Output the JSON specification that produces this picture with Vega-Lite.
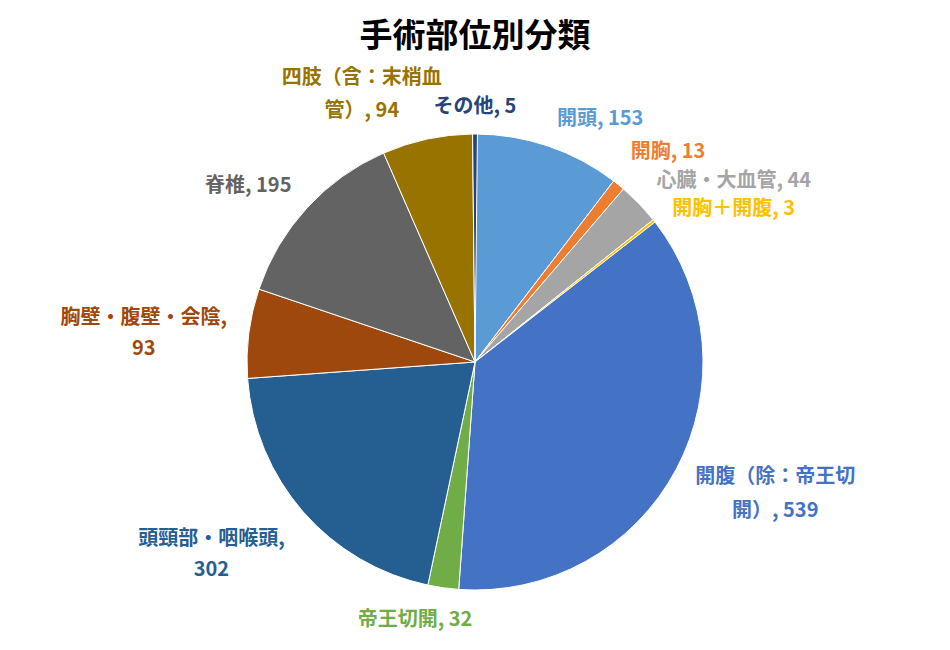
{
  "$schema": "https://vega.github.io/schema/vega-lite/v6.json",
  "width": 950,
  "height": 650,
  "autosize": {"type": "fit", "contains": "padding"},
  "padding": {"top": 27, "left": 0, "right": 0, "bottom": 0},
  "background": "white",
  "config": {"view": {"stroke": null}, "font": "Noto Sans CJK JP"},
  "title": {
    "text": "手術部位別分類",
    "fontSize": 33,
    "fontWeight": "bold",
    "color": "#000000",
    "anchor": "middle",
    "offset": 14
  },
  "data": {
    "values": [
      {"idx": 1, "category": "開頭", "n": 153, "label": "開頭, 153"},
      {"idx": 2, "category": "開胸", "n": 13, "label": "開胸, 13"},
      {"idx": 3, "category": "心臓・大血管", "n": 44, "label": "心臓・大血管, 44"},
      {"idx": 4, "category": "開胸＋開腹", "n": 3, "label": "開胸＋開腹, 3"},
      {"idx": 5, "category": "開腹（除：帝王切開）", "n": 539, "label": "開腹（除：帝王切\n開）, 539"},
      {"idx": 6, "category": "帝王切開", "n": 32, "label": "帝王切開, 32"},
      {"idx": 7, "category": "頭頸部・咽喉頭", "n": 302, "label": "頭頸部・咽喉頭,\n302"},
      {"idx": 8, "category": "胸壁・腹壁・会陰", "n": 93, "label": "胸壁・腹壁・会陰,\n93"},
      {"idx": 9, "category": "脊椎", "n": 195, "label": "脊椎, 195"},
      {"idx": 10, "category": "四肢（含：末梢血管）", "n": 94, "label": "四肢（含：末梢血\n管）, 94"},
      {"idx": 11, "category": "その他", "n": 5, "label": "その他, 5"}
    ]
  },
  "transform": [
    {"stack": "n", "groupby": [], "sort": [{"field": "idx", "order": "ascending"}], "as": ["t0", "t1"]},
    {"calculate": "(datum.t0 + datum.t1) / 2", "as": "tm"}
  ],
  "encoding": {
    "color": {
      "field": "category",
      "type": "nominal",
      "legend": null,
      "scale": {
        "domain": ["開頭", "開胸", "心臓・大血管", "開胸＋開腹", "開腹（除：帝王切開）", "帝王切開", "頭頸部・咽喉頭", "胸壁・腹壁・会陰", "脊椎", "四肢（含：末梢血管）", "その他"],
        "range": ["#5B9BD5", "#ED7D31", "#A5A5A5", "#FFC000", "#4472C4", "#70AD47", "#255E91", "#9E480E", "#636363", "#997300", "#264478"]
      }
    }
  },
  "layer": [
    {
      "mark": {"type": "arc", "outerRadius": 228, "stroke": "white", "strokeWidth": 1},
      "encoding": {
        "theta": {"field": "t0", "type": "quantitative", "stack": null},
        "theta2": {"field": "t1"}
      }
    },
    {
      "transform": [{"filter": {"field": "category", "equal": "開頭"}}],
      "mark": {"type": "text", "radius": 259, "dx": 42, "dy": 2, "fontSize": 20, "fontWeight": "bold", "lineBreak": "\n", "lineHeight": 32},
      "encoding": {"theta": {"field": "tm", "type": "quantitative"}, "text": {"field": "label"}}
    },
    {
      "transform": [{"filter": {"field": "category", "equal": "開胸"}}],
      "mark": {"type": "text", "radius": 265, "dx": 26, "dy": -4, "fontSize": 20, "fontWeight": "bold", "lineBreak": "\n", "lineHeight": 32},
      "encoding": {"theta": {"field": "tm", "type": "quantitative"}, "text": {"field": "label"}}
    },
    {
      "transform": [{"filter": {"field": "category", "equal": "心臓・大血管"}}],
      "mark": {"type": "text", "radius": 290, "dx": 50, "dy": 20, "fontSize": 20, "fontWeight": "bold", "lineBreak": "\n", "lineHeight": 32},
      "encoding": {"theta": {"field": "tm", "type": "quantitative"}, "text": {"field": "label"}}
    },
    {
      "transform": [{"filter": {"field": "category", "equal": "開胸＋開腹"}}],
      "mark": {"type": "text", "radius": 300, "dx": 23, "dy": 33, "fontSize": 20, "fontWeight": "bold", "lineBreak": "\n", "lineHeight": 32},
      "encoding": {"theta": {"field": "tm", "type": "quantitative"}, "text": {"field": "label"}}
    },
    {
      "transform": [{"filter": {"field": "category", "equal": "開腹（除：帝王切開）"}}],
      "mark": {"type": "text", "radius": 320, "dx": 18, "dy": -36, "fontSize": 20, "fontWeight": "bold", "lineBreak": "\n", "lineHeight": 34},
      "encoding": {"theta": {"field": "tm", "type": "quantitative"}, "text": {"field": "label"}}
    },
    {
      "transform": [{"filter": {"field": "category", "equal": "帝王切開"}}],
      "mark": {"type": "text", "radius": 258, "dx": -24, "dy": 3, "fontSize": 20, "fontWeight": "bold", "lineBreak": "\n", "lineHeight": 32},
      "encoding": {"theta": {"field": "tm", "type": "quantitative"}, "text": {"field": "label"}}
    },
    {
      "transform": [{"filter": {"field": "category", "equal": "頭頸部・咽喉頭"}}],
      "mark": {"type": "text", "radius": 310, "dx": -30, "dy": -27, "fontSize": 20, "fontWeight": "bold", "lineBreak": "\n", "lineHeight": 31},
      "encoding": {"theta": {"field": "tm", "type": "quantitative"}, "text": {"field": "label"}}
    },
    {
      "transform": [{"filter": {"field": "category", "equal": "胸壁・腹壁・会陰"}}],
      "mark": {"type": "text", "radius": 334, "dy": -2, "fontSize": 20, "fontWeight": "bold", "lineBreak": "\n", "lineHeight": 31},
      "encoding": {"theta": {"field": "tm", "type": "quantitative"}, "text": {"field": "label"}}
    },
    {
      "transform": [{"filter": {"field": "category", "equal": "脊椎"}}],
      "mark": {"type": "text", "radius": 290, "dx": -13, "dy": 20, "fontSize": 20, "fontWeight": "bold", "lineBreak": "\n", "lineHeight": 32},
      "encoding": {"theta": {"field": "tm", "type": "quantitative"}, "text": {"field": "label"}}
    },
    {
      "transform": [{"filter": {"field": "category", "equal": "四肢（含：末梢血管）"}}],
      "mark": {"type": "text", "radius": 277, "dx": -55, "dy": -13, "fontSize": 20, "fontWeight": "bold", "lineBreak": "\n", "lineHeight": 33},
      "encoding": {"theta": {"field": "tm", "type": "quantitative"}, "text": {"field": "label"}}
    },
    {
      "transform": [{"filter": {"field": "category", "equal": "その他"}}],
      "mark": {"type": "text", "radius": 257, "dy": 2, "fontSize": 20, "fontWeight": "bold", "lineBreak": "\n", "lineHeight": 32},
      "encoding": {"theta": {"field": "tm", "type": "quantitative"}, "text": {"field": "label"}}
    }
  ]
}
